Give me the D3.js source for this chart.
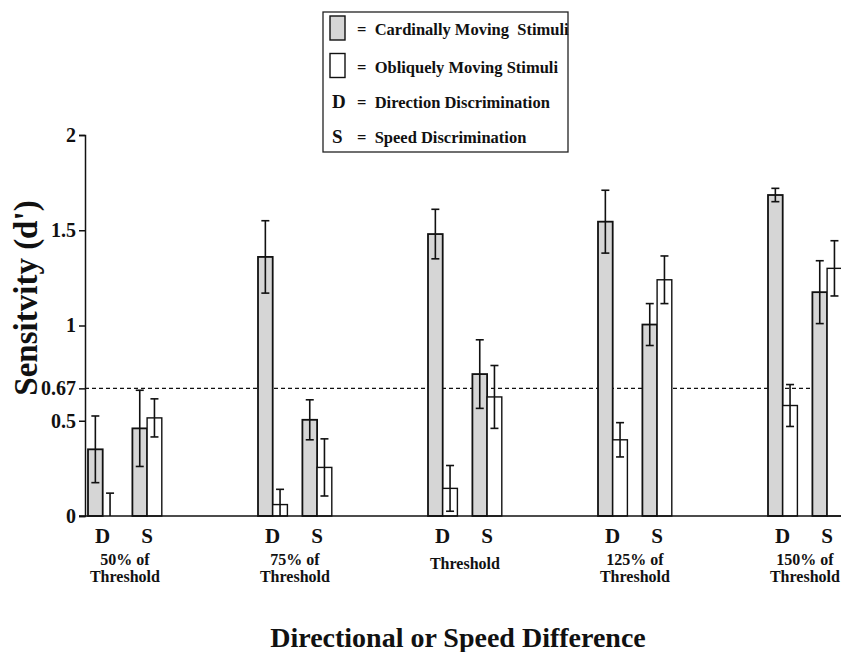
<!DOCTYPE html>
<html>
<head>
<meta charset="utf-8">
<script src="https://cdn.jsdelivr.net/npm/d3@7"></script>
<style>
  html, body { margin: 0; padding: 0; background: #fff; }
  svg { display: block; }
  text { font-family: "Liberation Serif", "Times New Roman", serif; font-weight: bold; fill: #111; }
</style>
</head>
<body>
<svg id="chart" width="841" height="652"></svg>
<script>
// ---------- data ----------
const groups = ["50%", "75%", "100%", "125%", "150%"];
const groupLabels = [["50% of", "Threshold"], ["75% of", "Threshold"], ["Threshold"], ["125% of", "Threshold"], ["150% of", "Threshold"]];
const tasks = ["D", "S"];
const stimuli = ["cardinal", "oblique"];

const cardinalD    = [0.35, 1.36, 1.48, 1.545, 1.685];
const cardinalDErr = [0.175, 0.19, 0.13, 0.165, 0.035];
const obliqueD     = [0.00, 0.06, 0.145, 0.40, 0.58];
const obliqueDErr  = [0.12, 0.08, 0.12, 0.09, 0.11];
const cardinalS    = [0.46, 0.505, 0.745, 1.005, 1.175];
const cardinalSErr = [0.20, 0.105, 0.18, 0.11, 0.165];
const obliqueS     = [0.515, 0.255, 0.625, 1.24, 1.30];
const obliqueSErr  = [0.10, 0.15, 0.165, 0.125, 0.145];

const yTicks = [0, 0.5, 0.67, 1, 1.5, 2];
const yTickLabels = ["0", "0.5", "0.67", "1", "1.5", "2"];
const criterion = 0.67;

const legendItems = [
  { key: "cardinal", text: "=  Cardinally Moving  Stimuli" },
  { key: "oblique", text: "=  Obliquely Moving Stimuli" },
  { key: "D", text: "=  Direction Discrimination" },
  { key: "S", text: "=  Speed Discrimination" }
];

// ---------- build records ----------
const series = {
  D: { cardinal: [cardinalD, cardinalDErr], oblique: [obliqueD, obliqueDErr] },
  S: { cardinal: [cardinalS, cardinalSErr], oblique: [obliqueS, obliqueSErr] }
};
const records = [];
groups.forEach((g, gi) => {
  tasks.forEach(t => {
    stimuli.forEach(s => {
      records.push({ group: g, task: t, stim: s, value: series[t][s][0][gi], err: series[t][s][1][gi] });
    });
  });
});

// ---------- layout ----------
const svg = d3.select("#chart");
const axisX = 85;
const plotRight = 841;

const y = d3.scaleLinear().domain([0, 2]).range([516, 135]);
const xGroup = d3.scaleBand().domain(groups).range([88, 88 + 170 * groups.length]).paddingInner(0).paddingOuter(0);
const xTask = d3.scaleBand().domain(tasks).range([0, 88.8]);
const xStim = d3.scaleBand().domain(stimuli).range([0, 29.4]);

const colors = { cardinal: "#d6d6d6", oblique: "#ffffff" };

// criterion dashed line
svg.append("line")
  .attr("x1", axisX).attr("x2", plotRight)
  .attr("y1", y(criterion)).attr("y2", y(criterion))
  .attr("stroke", "#111").attr("stroke-width", 1.3)
  .attr("stroke-dasharray", "4,3");

// bars
const barX = d => xGroup(d.group) + xTask(d.task) + xStim(d.stim);
svg.append("g").selectAll("rect").data(records).join("rect")
  .attr("x", barX)
  .attr("y", d => y(d.value))
  .attr("width", xStim.bandwidth())
  .attr("height", d => y(0) - y(d.value))
  .attr("fill", d => colors[d.stim])
  .attr("stroke", "#111")
  .attr("stroke-width", d => d.stim === "cardinal" ? 1.8 : 1.4);

// error bars
const eb = svg.append("g").attr("stroke", "#111").attr("stroke-width", 1.6);
records.forEach(d => {
  const cx = barX(d) + xStim.bandwidth() / 2;
  const lo = Math.max(0, d.value - d.err), hi = d.value + d.err;
  eb.append("line").attr("x1", cx).attr("x2", cx).attr("y1", y(lo)).attr("y2", y(hi));
  eb.append("line").attr("x1", cx - 4).attr("x2", cx + 4).attr("y1", y(hi)).attr("y2", y(hi));
  if (d.value - d.err > 0) {
    eb.append("line").attr("x1", cx - 4).attr("x2", cx + 4).attr("y1", y(lo)).attr("y2", y(lo));
  }
});

// x axis line
svg.append("line")
  .attr("x1", axisX - 6).attr("x2", plotRight)
  .attr("y1", y(0)).attr("y2", y(0))
  .attr("stroke", "#111").attr("stroke-width", 1.5);

// y axis
const yAxis = d3.axisLeft(y)
  .tickValues(yTicks)
  .tickFormat((d, i) => yTickLabels[i])
  .tickSizeOuter(0)
  .tickSize(6)
  .tickPadding(3);
const gy = svg.append("g").attr("transform", `translate(${axisX},0)`).call(yAxis);
gy.select(".domain").attr("stroke", "#111").attr("stroke-width", 1.5);
gy.selectAll(".tick line").attr("stroke", "#111").attr("stroke-width", 1.5);
gy.selectAll(".tick text")
  .attr("fill", "#111")
  .style("font-family", '"Liberation Serif", "Times New Roman", serif')
  .style("font-weight", "bold")
  .style("font-size", "20px");

// task labels D / S
groups.forEach(g => {
  tasks.forEach(t => {
    svg.append("text")
      .attr("x", xGroup(g) + xTask(t) + xStim.range()[1] / 2)
      .attr("y", 543)
      .attr("text-anchor", "middle")
      .style("font-size", "21px")
      .text(t);
  });
});

// group labels
const groupCenter = g => xGroup(g) + (xTask("S") + xStim.range()[1]) / 2;
groups.forEach((g, gi) => {
  const lines = groupLabels[gi];
  const base = lines.length === 1 ? 569 : 565;
  lines.forEach((ln, li) => {
    svg.append("text")
      .attr("x", groupCenter(g))
      .attr("y", base + li * 16.5)
      .attr("text-anchor", "middle")
      .style("font-size", "16px")
      .text(ln);
  });
});

// axis titles
svg.append("text")
  .attr("transform", "translate(37,298) rotate(-90)")
  .attr("text-anchor", "middle")
  .style("font-size", "33px")
  .text("Sensitvity (d')");

svg.append("text")
  .attr("x", 458).attr("y", 647)
  .attr("text-anchor", "middle")
  .style("font-size", "28px")
  .text("Directional or Speed Difference");

// legend
const lg = svg.append("g");
lg.append("rect")
  .attr("x", 323).attr("y", 12).attr("width", 245).attr("height", 140)
  .attr("fill", "#fff").attr("stroke", "#222").attr("stroke-width", 1.3);
const baselines = [35, 72.5, 108, 143];
legendItems.forEach((it, i) => {
  const b = baselines[i];
  if (it.key === "cardinal" || it.key === "oblique") {
    lg.append("rect")
      .attr("x", 330).attr("y", b - 19).attr("width", 15).attr("height", 24)
      .attr("fill", colors[it.key]).attr("stroke", "#111").attr("stroke-width", 1.4);
  } else {
    lg.append("text").attr("x", 332).attr("y", b)
      .style("font-size", "19px").text(it.key);
  }
  lg.append("text").attr("x", 357).attr("y", b)
    .attr("xml:space", "preserve")
    .style("white-space", "pre")
    .style("font-size", "16.5px")
    .text(it.text);
});
</script>
</body>
</html>
